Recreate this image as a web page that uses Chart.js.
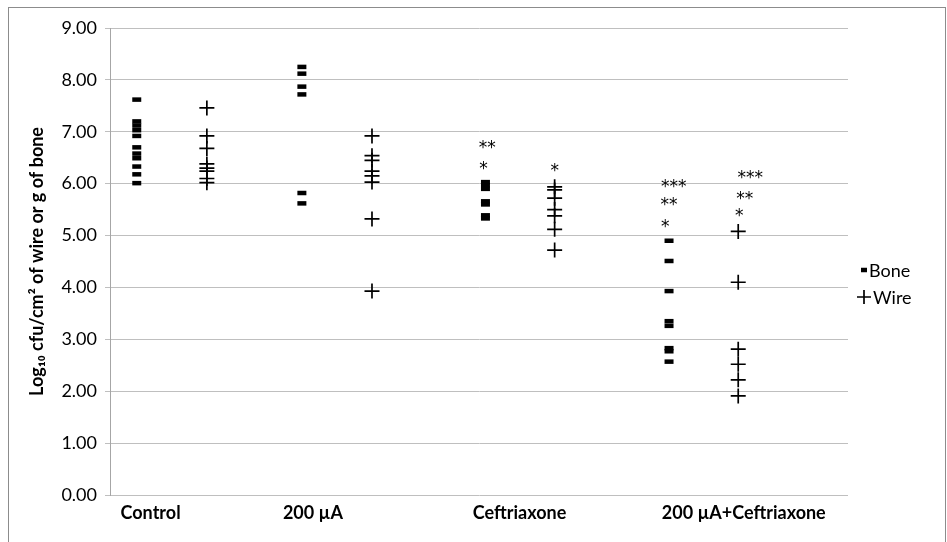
<!DOCTYPE html>
<html>
<head>
<meta charset="utf-8">
<script src="https://cdn.jsdelivr.net/npm/chart.js@4.4.1/dist/chart.umd.min.js"></script>
<style>
  html, body { margin: 0; padding: 0; background: #ffffff; }
  #wrap { width: 947px; height: 542px; position: relative; }
</style>
</head>
<body>
<div id="wrap"><canvas id="c" width="947" height="542"></canvas></div>
<script>
// ---- data ----
const categories = ['Control', '200 µA', 'Ceftriaxone', '200 µA+Ceftriaxone'];
const categoryLabelX = [0.44, 2.2, 4.44, 6.87];
const boneX = [0.29, 2.08, 4.07, 6.06];
const wireX = [1.05, 2.84, 4.82, 6.81];
const boneControl = [7.62, 7.20, 7.12, 7.03, 6.92, 6.70, 6.58, 6.49, 6.33, 6.18, 6.01];
const bone200uA = [8.25, 8.12, 7.87, 7.72, 5.82, 5.62];
const boneCeftriaxone = [6.03, 5.97, 5.90, 5.66, 5.60, 5.39, 5.33];
const boneCombo = [4.90, 4.51, 3.93, 3.35, 3.26, 2.83, 2.77, 2.57];
const wireControl = [7.46, 6.92, 6.68, 6.38, 6.30, 6.24, 6.10, 6.02];
const wire200uA = [6.92, 6.54, 6.45, 6.24, 6.15, 6.03, 5.32, 3.93];
const wireCeftriaxone = [5.94, 5.88, 5.72, 5.50, 5.38, 5.12, 4.72];
const wireCombo = [5.08, 4.10, 2.81, 2.52, 2.22, 1.91];
const yTicks = [0, 1, 2, 3, 4, 5, 6, 7, 8, 9];
const starText = ['**', '*', '*', '***', '**', '*', '***', '**', '*'];
const starX = [4.09, 4.05, 4.82, 6.11, 6.06, 6.02, 6.94, 6.88, 6.82];
const starY = [6.78, 6.37, 6.34, 6.04, 5.68, 5.27, 6.21, 5.81, 5.47];
const legendNames = ['Bone', 'Wire'];

const boneGroups = [boneControl, bone200uA, boneCeftriaxone, boneCombo];
const wireGroups = [wireControl, wire200uA, wireCeftriaxone, wireCombo];

const FONT = 'Lato, "Liberation Sans", sans-serif';
const boneData = [];
boneGroups.forEach((g, i) => g.forEach(v => boneData.push({x: boneX[i], y: v})));
const wireData = [];
wireGroups.forEach((g, i) => g.forEach(v => wireData.push({x: wireX[i], y: v})));

const framePlugin = {
  id: 'frame',
  beforeDraw(chart) {
    const ctx = chart.ctx;
    ctx.save();
    ctx.fillStyle = '#ffffff';
    ctx.fillRect(0, 0, chart.width, chart.height);
    ctx.strokeStyle = '#8c8c8c';
    ctx.lineWidth = 1;
    ctx.strokeRect(8.5, 7.5, 937, 545);
    ctx.restore();
  }
};

const starPlugin = {
  id: 'stars',
  afterDatasetsDraw(chart) {
    const ctx = chart.ctx, xs = chart.scales.x, ys = chart.scales.y;
    ctx.save();
    ctx.fillStyle = '#000000';
    ctx.font = '17px "DejaVu Sans", sans-serif';
    ctx.textAlign = 'center';
    ctx.textBaseline = 'alphabetic';
    starText.forEach((t, i) => {
      ctx.fillText(t, xs.getPixelForValue(starX[i]), ys.getPixelForValue(starY[i]) + 10);
    });
    ctx.restore();
  }
};

const legendPlugin = {
  id: 'customLegend',
  afterDraw(chart) {
    const ctx = chart.ctx;
    const area = chart.chartArea;
    ctx.save();
    ctx.font = '18px ' + FONT;
    ctx.fillStyle = '#000000';
    ctx.textBaseline = 'middle';
    ctx.textAlign = 'left';
    chart.data.datasets.forEach((ds, i) => {
      const y = 270 + i * 27;
      const mx = area.right + 16;
      ctx.strokeStyle = '#000000';
      ctx.fillStyle = '#000000';
      ctx.lineWidth = ds.borderWidth;
      Chart.helpers.drawPoint(ctx, {pointStyle: ds.pointStyle, radius: i === 0 ? 3 : 7, borderWidth: ds.borderWidth, rotation: 0}, mx, y);
      ctx.fillText(legendNames[i], mx + (i === 0 ? 5 : 9), y + 1);
    });
    ctx.restore();
  }
};

new Chart(document.getElementById('c'), {
  type: 'scatter',
  data: {
    datasets: [
      {label: legendNames[0], data: boneData, pointStyle: 'line', pointRadius: 4.5, pointHoverRadius: 4.5,
       borderColor: '#000000', backgroundColor: '#000000', borderWidth: 4.5, showLine: false},
      {label: legendNames[1], data: wireData, pointStyle: 'cross', pointRadius: 7.5, pointHoverRadius: 7.5,
       borderColor: '#000000', backgroundColor: '#000000', borderWidth: 1.7, showLine: false}
    ]
  },
  options: {
    responsive: false,
    animation: false,
    devicePixelRatio: 1,
    layout: {padding: {left: 0, top: 28, right: 99, bottom: 0}},
    plugins: {legend: {display: false}, tooltip: {enabled: false}},
    scales: {
      x: {
        type: 'linear', min: 0, max: 8,
        afterFit(s) { s.height = 47; },
        afterBuildTicks(s) { s.ticks = categoryLabelX.map(v => ({value: v})); },
        grid: {display: false, drawTicks: false},
        border: {display: false},
        ticks: {
          padding: 7, autoSkip: false, maxRotation: 0,
          color: '#000000', font: {family: FONT, size: 18, weight: 'bold'},
          callback(v, i) { return categories[i]; }
        }
      },
      y: {
        min: 0, max: 9,
        afterFit(s) { s.width = 110; },
        afterBuildTicks(s) { s.ticks = yTicks.map(v => ({value: v})); },
        grid: {color: '#bfbfbf', lineWidth: 1, tickLength: 5, drawTicks: true},
        border: {color: '#a6a6a6', width: 1},
        ticks: {
          padding: 8, color: '#000000', font: {family: FONT, size: 18},
          callback(v) { return Number(v).toFixed(2); }
        },
        title: {
          display: true, text: 'Log₁₀ cfu/cm² of wire or g of bone',
          color: '#000000', font: {family: FONT, size: 18, weight: 'bold'},
          padding: {top: 26, bottom: 0}
        }
      }
    }
  },
  plugins: [framePlugin, starPlugin, legendPlugin]
});
</script>
</body>
</html>
